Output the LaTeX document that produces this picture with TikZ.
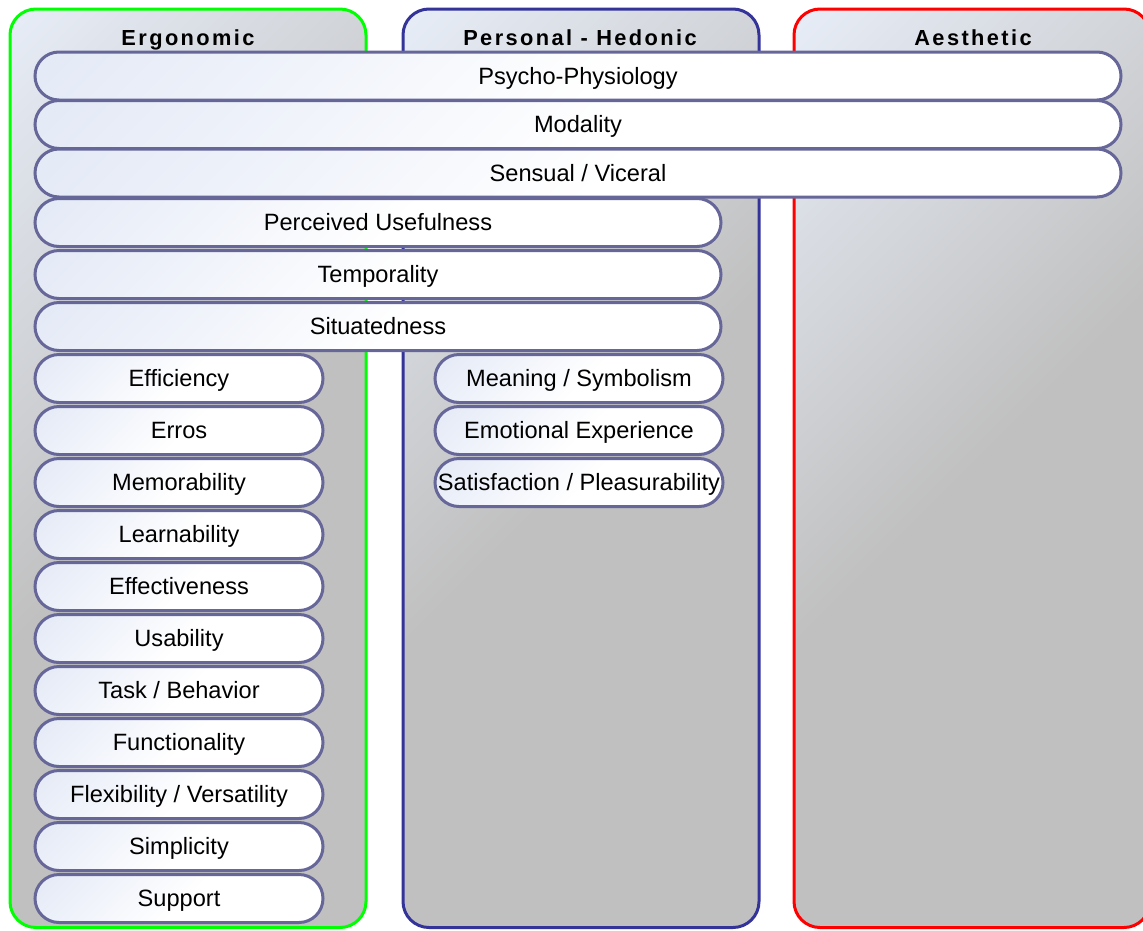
\documentclass[tikz,border=0pt]{standalone}
\usepackage{fontspec}
\setmainfont{Liberation Sans}[Ligatures=NoCommon]
\newfontfamily\headfont{Liberation Sans}[LetterSpace=11,Ligatures=NoCommon]

\definecolor{colLight}{RGB}{231,237,247}
\definecolor{colGray}{RGB}{192,192,192}
\definecolor{pillLight}{RGB}{227,233,246}
\definecolor{pillEdge}{RGB}{102,102,153}
\definecolor{ergoEdge}{RGB}{0,255,0}
\definecolor{hedoEdge}{RGB}{51,51,153}
\definecolor{aestEdge}{RGB}{255,0,0}

% diagonal fills: light in the upper left corner, fading along the box diagonal
\pgfdeclareverticalshading{colshade}{100bp}{color(0bp)=(colGray); color(50bp)=(colGray); color(85.4bp)=(colLight); color(100bp)=(colLight)}
\pgfdeclareverticalshading{pillshade}{100bp}{color(0bp)=(white); color(48bp)=(white); color(85.4bp)=(pillLight); color(100bp)=(pillLight)}

\begin{document}
\begin{tikzpicture}[x=1pt,y=-1pt,
  column/.style={rectangle, rounded corners=26pt, line width=3pt, shade, shading=colshade,
    shading angle=45, minimum width=356pt, minimum height=918.5pt, inner sep=0pt},
  head/.style={font=\headfont\bfseries\fontsize{21.8}{24}\selectfont, text height=15.6pt,
    text depth=0pt, inner sep=0pt},
  pill/.style={rectangle, rounded corners=24pt, draw=pillEdge, line width=3pt, shade,
    shading=pillshade, shading angle=45, minimum height=48pt, inner sep=0pt,
    font=\fontsize{23.6}{27}\selectfont, text height=16.9pt, text depth=0pt},
  wide/.style={pill, minimum width=1086pt},
  half/.style={pill, minimum width=686pt},
  short/.style={pill, minimum width=288pt}]

\useasboundingbox (0,0) rectangle (1143,930);

% the three category columns
\node[column, draw=ergoEdge] (ergo) at (188,468.25) {};
\node[column, draw=hedoEdge] (hedo) at (581,468.25) {};
\node[column, draw=aestEdge] (aest) at (972,468.25) {};

\node[head] (ergoT) at (188,37.5) {Ergonomic};
\node[head] (hedoT) at (580,37.5) {Personal - Hedonic};
\node[head] (aestT) at (973,37.5) {Aesthetic};

% dimensions shared by all three columns
\node[wide] (psy)  at (578,76)    {Psycho-Physiology};
\node[wide] (mod)  at (578,124.5) {Modality};
\node[wide] (sens) at (578,173)   {Sensual / Viceral};

% dimensions shared by ergonomic and hedonic
\node[half] (perc) at (378,222.5) {Perceived Usefulness};
\node[half] (temp) at (378,274.5) {Temporality};
\node[half] (situ) at (378,326.5) {Situatedness};

% ergonomic dimensions
\node[short] (effi) at (179,378.5) {Efficiency};
\node[short] (erro) at (179,430.5) {Erros};
\node[short] (memo) at (179,482.5) {Memorability};
\node[short] (lear) at (179,534.5) {Learnability};
\node[short] (effe) at (179,586.5) {Effectiveness};
\node[short] (usab) at (179,638.5) {Usability};
\node[short] (task) at (179,690.5) {Task / Behavior};
\node[short] (func) at (179,742.5) {Functionality};
\node[short] (flex) at (179,794.5) {Flexibility / Versatility};
\node[short] (simp) at (179,846.5) {Simplicity};
\node[short] (supp) at (179,898.5) {Support};

% hedonic dimensions
\node[short] (mean) at (579,378.5) {Meaning / Symbolism};
\node[short] (emot) at (579,430.5) {Emotional Experience};
\node[short] (sati) at (579,482.5) {Satisfaction / Pleasurability};
\end{tikzpicture}
\end{document}
